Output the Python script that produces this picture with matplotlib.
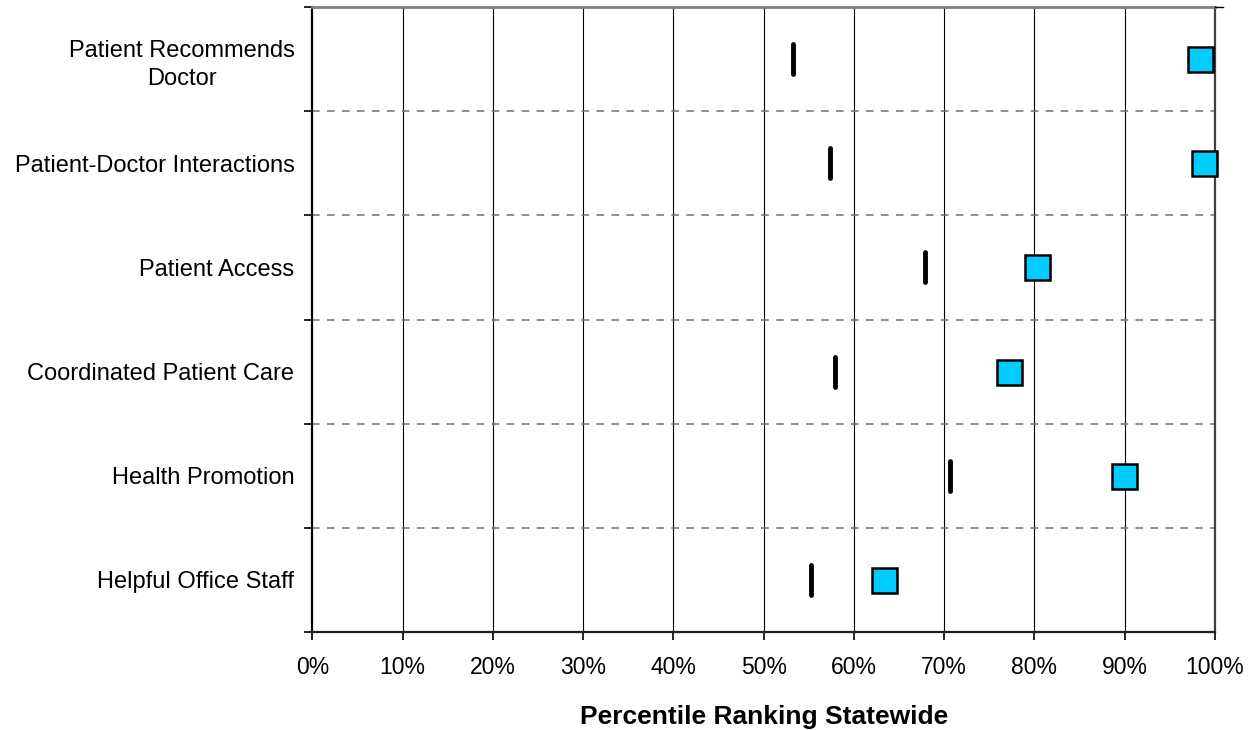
import matplotlib
matplotlib.use("Agg")
import matplotlib.pyplot as plt
from matplotlib.markers import MarkerStyle
from matplotlib.ticker import FixedLocator, NullFormatter

plt.rcParams['font.family'] = ['Liberation Sans', 'DejaVu Sans']

categories = [
    "Patient Recommends\nDoctor",
    "Patient-Doctor Interactions",
    "Patient Access",
    "Coordinated Patient Care",
    "Health Promotion",
    "Helpful Office Staff",
]
# statewide median marks (percent)
median_pct = [53.3, 57.4, 67.9, 57.9, 70.7, 55.3]
# practice percentile (percent)
practice_pct = [98.4, 98.8, 80.3, 77.2, 89.9, 63.3]
xtick_vals = list(range(0, 101, 10))
xtick_labels = [f"{v}%" for v in xtick_vals]
xlabel = "Percentile Ranking Statewide"

fig = plt.figure(figsize=(12.55, 7.30), dpi=100)
ax = fig.add_axes([0.249, 0.1342, 0.719, 0.8562])

n = len(categories)
ypos = [n - 0.5 - i for i in range(n)]

ax.set_xlim(0, 100)
ax.set_ylim(0, n)

# vertical gridlines at every 10%
for v in xtick_vals[1:-1]:
    ax.axvline(v, color='black', lw=0.8, zorder=1)
# dashed separators between categories
for b in range(1, n):
    ax.axhline(b, color='#707070', lw=1.1, dashes=(5, 4.8), zorder=1)

tick_marker = MarkerStyle('|', capstyle='round')
ax.plot(median_pct, ypos, linestyle='none', marker=tick_marker,
        markersize=21, markeredgewidth=3.5, color='black', zorder=3)
ax.plot(practice_pct, ypos, linestyle='none', marker='s', markersize=18,
        markerfacecolor='#00CCFF', markeredgecolor='black',
        markeredgewidth=1.8, zorder=4, clip_on=False)

# axes frame
ax.spines['top'].set_color('#808080')
ax.spines['top'].set_linewidth(2.0)
ax.spines['left'].set_color('black')
ax.spines['left'].set_linewidth(1.6)
ax.spines['bottom'].set_color('#202020')
ax.spines['bottom'].set_linewidth(1.6)
ax.spines['right'].set_color('#404040')
ax.spines['right'].set_linewidth(1.6)

# short stub continuing the top border to the right
ax.plot([100, 100.9], [n, n], color='black', lw=1.0, clip_on=False, zorder=5)

ax.set_xticks(xtick_vals)
ax.set_xticklabels(xtick_labels, fontsize=16.5)
ax.tick_params(axis='x', direction='out', length=6, width=1.2, pad=11)

# y ticks at category boundaries, labels centred in each band
ax.yaxis.set_major_locator(FixedLocator(list(range(0, n + 1))))
ax.yaxis.set_major_formatter(NullFormatter())
ax.tick_params(axis='y', which='major', direction='out', length=6, width=1.2)
ax.set_yticks(ypos, minor=True)
ax.set_yticklabels(categories, minor=True, fontsize=17,
                   multialignment='center', linespacing=1.38)
ax.tick_params(axis='y', which='minor', length=0, pad=13)

ax.set_xlabel(xlabel, fontsize=19, fontweight='bold', labelpad=19)

fig.savefig("out.png", dpi=100)
